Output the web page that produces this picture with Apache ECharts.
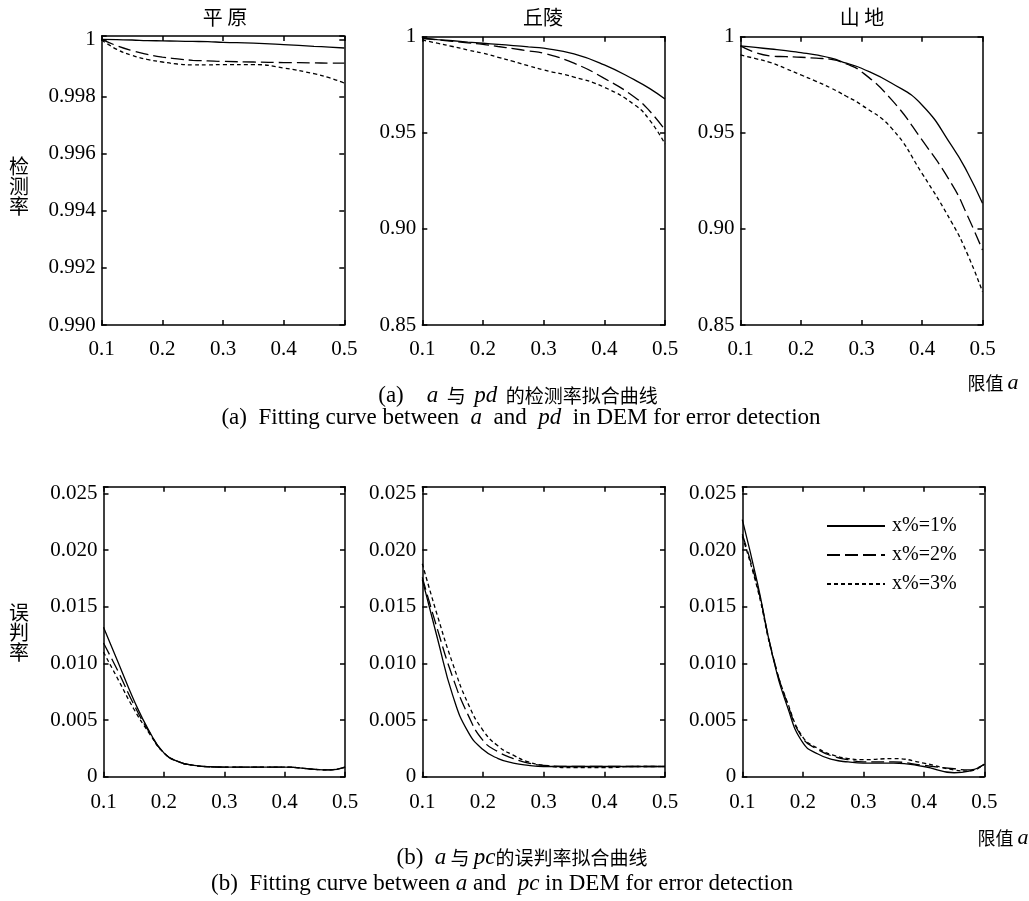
<!DOCTYPE html>
<html>
<head>
<meta charset="utf-8">
<script src="https://cdn.jsdelivr.net/npm/echarts@6/dist/echarts.min.js"></script>
<style>
html,body{margin:0;padding:0;background:#fff;}
#chart{width:1029px;height:901px;}
</style>
</head>
<body>
<div id="chart"></div>
<script>
// ---------- data ----------
const xValues = [0.1,0.125,0.15,0.175,0.2,0.225,0.25,0.275,0.3,0.35,0.4,0.45,0.475,0.5];
const xTickLabels = ['0.1','0.2','0.3','0.4','0.5'];
const pdPlainTickLabels = ['0.990','0.992','0.994','0.996','0.998','1'];
const pdTickLabels = ['0.85','0.90','0.95','1'];
const pcTickLabels = ['0','0.005','0.010','0.015','0.020','0.025'];
const seriesNames = ['x%=1%','x%=2%','x%=3%'];
const panelTitles = ['平 原','丘陵','山 地'];

// detection rate pd, plain
const pdPlain1 = [1.0000,0.99999,0.99998,0.99996,0.99995,0.99994,0.99993,0.99992,0.99990,0.99987,0.99982,0.99976,0.99973,0.99970];
const pdPlain2 = [1.0000,0.99978,0.99961,0.99948,0.99938,0.99932,0.99927,0.99925,0.99923,0.99921,0.99919,0.99918,0.99917,0.99917];
const pdPlain3 = [0.99998,0.99965,0.99944,0.99930,0.99921,0.99914,0.99911,0.99911,0.99912,0.99912,0.99900,0.99880,0.99866,0.99847];
// detection rate pd, hills
const pdHill1 = [0.9992,0.9985,0.9979,0.9972,0.9966,0.9960,0.9954,0.9947,0.9940,0.9910,0.9853,0.9775,0.9730,0.9676];
const pdHill2 = [0.9992,0.9984,0.9976,0.9968,0.9960,0.9949,0.9938,0.9926,0.9914,0.9862,0.9783,0.9685,0.9612,0.9515];
const pdHill3 = [0.9983,0.9966,0.9949,0.9931,0.9914,0.9893,0.9871,0.9849,0.9827,0.9790,0.9737,0.9645,0.9565,0.9442];
// detection rate pd, mountains
const pdMount1 = [0.9952,0.9944,0.9936,0.9928,0.9917,0.9905,0.9888,0.9862,0.9836,0.9758,0.9645,0.9428,0.9295,0.9133];
const pdMount2 = [0.9952,0.9917,0.9900,0.9896,0.9893,0.9888,0.9882,0.9858,0.9818,0.9671,0.9463,0.9229,0.9070,0.8890];
const pdMount3 = [0.9905,0.9886,0.9865,0.9834,0.9801,0.9768,0.9732,0.9690,0.9645,0.9523,0.9289,0.9029,0.8870,0.8673];
// misjudgment rate pc, plain
const pcPlain1 = [0.0132,0.0100,0.0068,0.0041,0.0021,0.0013,0.0010,0.00088,0.00085,0.00085,0.00085,0.00065,0.00060,0.00085];
const pcPlain2 = [0.0118,0.0092,0.0064,0.0040,0.0021,0.0013,0.0010,0.00088,0.00085,0.00085,0.00085,0.00065,0.00060,0.00085];
const pcPlain3 = [0.0110,0.0085,0.0060,0.0039,0.0021,0.0013,0.0010,0.00088,0.00085,0.00085,0.00085,0.00065,0.00060,0.00085];
// misjudgment rate pc, hills
const pcHill1 = [0.0174,0.0122,0.0072,0.0040,0.0024,0.0016,0.0012,0.0010,0.0009,0.0009,0.0009,0.0009,0.0009,0.0009];
const pcHill2 = [0.0176,0.0130,0.0088,0.0055,0.0032,0.0022,0.0016,0.0012,0.0010,0.0009,0.0009,0.0009,0.0009,0.0009];
const pcHill3 = [0.0188,0.0142,0.0100,0.0065,0.0041,0.0027,0.0019,0.0013,0.0010,0.0008,0.0008,0.0009,0.0009,0.0009];
// misjudgment rate pc, mountains
const pcMount1 = [0.0227,0.0171,0.0107,0.0061,0.0030,0.0020,0.0015,0.0013,0.0012,0.0012,0.0009,0.00035,0.0005,0.0011];
const pcMount2 = [0.0214,0.0168,0.0108,0.0064,0.0034,0.0024,0.0018,0.0015,0.0013,0.0013,0.0010,0.0007,0.0006,0.0011];
const pcMount3 = [0.0212,0.0166,0.0107,0.0065,0.0035,0.0025,0.0019,0.0016,0.0015,0.0016,0.0012,0.0006,0.0005,0.0011];

// ---------- layout ----------
const SERIF = 'Liberation Serif, Times New Roman, serif';
const CJK = 'Noto Sans CJK SC, sans-serif';

const panels = [
  {grid:{left:101.7, top:36, width:242.6, height:289}, y:{min:0.990, max:1.00012, interval:0.002, labels:pdPlainTickLabels}, data:[pdPlain1,pdPlain2,pdPlain3], xMargin:14},
  {grid:{left:422.3, top:36.7, width:242.7, height:288.3}, y:{min:0.85, max:1, interval:0.05, labels:pdTickLabels}, data:[pdHill1,pdHill2,pdHill3], xMargin:14},
  {grid:{left:740.5, top:36.7, width:242, height:288.3}, y:{min:0.85, max:1, interval:0.05, labels:pdTickLabels}, data:[pdMount1,pdMount2,pdMount3], xMargin:14},
  {grid:{left:103.5, top:486.7, width:241.5, height:290}, y:{min:0, max:0.0256, interval:0.005, labels:pcTickLabels}, data:[pcPlain1,pcPlain2,pcPlain3], xMargin:15},
  {grid:{left:422.3, top:486.7, width:242.7, height:290}, y:{min:0, max:0.0256, interval:0.005, labels:pcTickLabels}, data:[pcHill1,pcHill2,pcHill3], xMargin:15},
  {grid:{left:742.3, top:486.7, width:242, height:290}, y:{min:0, max:0.0256, interval:0.005, labels:pcTickLabels}, data:[pcMount1,pcMount2,pcMount3], xMargin:15}
];

const lineTypes = ['solid', [13,5], [4,3]];

function labelFor(labels, min, interval) {
  return function (v) {
    const k = Math.round((v - min) / interval);
    if (k >= 0 && k < labels.length && Math.abs(min + k * interval - v) < interval * 1e-3) return labels[k];
    return '';
  };
}

const frameLine = {show:true, onZero:false, lineStyle:{color:'#000', width:1.5}};
const tickStyle = {show:true, inside:true, length:5, lineStyle:{color:'#000', width:1.5}};
const labelStyle = {color:'#000', fontFamily:SERIF, fontSize:21};

const grid = [], xAxis = [], yAxis = [], series = [];
panels.forEach((p, i) => {
  grid.push(Object.assign({outerBoundsMode:'none', containLabel:false}, p.grid));
  xAxis.push({type:'value', gridIndex:i, position:'bottom', min:0.1, max:0.5, interval:0.1,
    axisLine:frameLine, axisTick:tickStyle, splitLine:{show:false},
    axisLabel:Object.assign({margin:p.xMargin, formatter:labelFor(xTickLabels, 0.1, 0.1)}, labelStyle)});
  xAxis.push({type:'value', gridIndex:i, position:'top', min:0.1, max:0.5, interval:0.1,
    axisLine:frameLine, axisTick:tickStyle, splitLine:{show:false}, axisLabel:{show:false}});
  yAxis.push({type:'value', gridIndex:i, position:'left', min:p.y.min, max:p.y.max, interval:p.y.interval,
    axisLine:frameLine, axisTick:tickStyle, splitLine:{show:false},
    axisLabel:Object.assign({margin:6, formatter:labelFor(p.y.labels, p.y.min, p.y.interval)}, labelStyle)});
  yAxis.push({type:'value', gridIndex:i, position:'right', min:p.y.min, max:p.y.max, interval:p.y.interval,
    axisLine:frameLine, axisTick:tickStyle, splitLine:{show:false}, axisLabel:{show:false}});
  p.data.forEach((vals, j) => {
    series.push({
      type:'line', name:seriesNames[j], xAxisIndex:2*i, yAxisIndex:2*i,
      data: xValues.map((x, k) => [x, vals[k]]),
      smooth:true, symbol:'none', showSymbol:false, silent:true, animation:false,
      lineStyle:{color:'#000', width:1.3, type:lineTypes[j]}
    });
  });
});

function txt(x, y, text, font, size, rich) {
  return {type:'text', x:x, y:y, silent:true, style:{text:text, fill:'#000', font:size+'px '+font,
    textAlign:'center', textVerticalAlign:'middle', align:'center', verticalAlign:'middle', rich:rich}};
}
const richCap = {
  i:{fontStyle:'italic', fontFamily:SERIF, fontSize:23, color:'#000', fill:'#000'},
  e:{fontFamily:SERIF, fontSize:23, color:'#000', fill:'#000'},
  c:{fontFamily:CJK, fontSize:19, color:'#000', fill:'#000'}
};
const richSide = {
  i:{fontStyle:'italic', fontFamily:SERIF, fontSize:22, color:'#000', fill:'#000'},
  c:{fontFamily:CJK, fontSize:18, color:'#000', fill:'#000'}
};

const graphic = [
  txt(225, 17, panelTitles[0], CJK, 20),
  txt(543, 17, panelTitles[1], CJK, 20),
  txt(862, 17, panelTitles[2], CJK, 20),
  txt(19, 186, '检\n测\n率', CJK, 20),
  txt(19, 632, '误\n判\n率', CJK, 20),
  txt(993, 383, '{c|限值 }{i|a}', CJK, 18, richSide),
  txt(1003, 838, '{c|限值 }{i|a}', CJK, 18, richSide),
  txt(518, 396, '{e|(a)    }{i|a}{c|  与  }{i|pd}{c|  的检测率拟合曲线}', CJK, 19, richCap),
  txt(521, 418, '{e|(a)  Fitting curve between  }{i|a}{e|  and  }{i|pd}{e|  in DEM for error detection}', SERIF, 23, richCap),
  txt(522, 858, '{e|(b)  }{i|a}{c| 与 }{i|pc}{c|的误判率拟合曲线}', CJK, 19, richCap),
  txt(502, 884, '{e|(b)  Fitting curve between }{i|a}{e| and  }{i|pc}{e| in DEM for error detection}', SERIF, 23, richCap)
];

const option = {
  backgroundColor:'#fff',
  animation:false,
  grid:grid, xAxis:xAxis, yAxis:yAxis, series:series,
  legend:{
    data:seriesNames, orient:'vertical', left:821, top:511,
    itemWidth:58, itemHeight:16, itemGap:9, selectedMode:false,
    itemStyle:{opacity:0, borderWidth:0},
    textStyle:{color:'#000', fontFamily:SERIF, fontSize:20, padding:[0,0,0,2]}
  },
  graphic:graphic
};

const chart = echarts.init(document.getElementById('chart'), null, {renderer:'canvas'});
chart.setOption(option);
</script>
</body>
</html>
